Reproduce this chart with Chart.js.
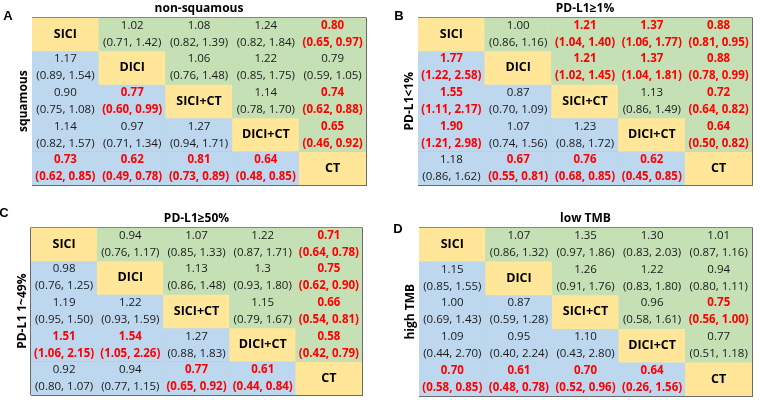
<!DOCTYPE html>
<html>
<head>
<meta charset="utf-8">
<script src="https://cdn.jsdelivr.net/npm/chart.js@4.4.1/dist/chart.umd.min.js"></script>
<style>
  html, body { margin: 0; padding: 0; background: #fff; }
  #wrap { position: relative; width: 760px; height: 400px; }
  .panel { position: absolute; width: 380px; height: 200px; }
</style>
</head>
<body>
<div id="wrap">
  <div class="panel" style="left:0;top:0"><canvas id="pA" width="380" height="200"></canvas></div>
  <div class="panel" style="left:380px;top:0"><canvas id="pB" width="380" height="200"></canvas></div>
  <div class="panel" style="left:0;top:200px"><canvas id="pC" width="380" height="200"></canvas></div>
  <div class="panel" style="left:380px;top:200px"><canvas id="pD" width="380" height="200"></canvas></div>
</div>
<script>
/* ===== League tables (HR with 95% CI) ===== */

const treatments = ['SICI', 'DICI', 'SICI+CT', 'DICI+CT', 'CT'];
const panelLetters = ['A', 'B', 'C', 'D'];
const colTitles = ['non-squamous', 'PD-L1\u22651%', 'PD-L1\u226550%', 'low TMB'];
const rowTitles = ['squamous', 'PD-L1<1%', 'PD-L1 1~49%', 'high TMB'];

// A: upper triangle non-squamous, lower triangle squamous
const estA = [
  [null, '1.02', '1.08', '1.24', '0.80'],
  ['1.17', null, '1.06', '1.22', '0.79'],
  ['0.90', '0.77', null, '1.14', '0.74'],
  ['1.14', '0.97', '1.27', null, '0.65'],
  ['0.73', '0.62', '0.81', '0.64', null]
];
const loA = [
  [null, 0.71, 0.82, 0.82, 0.65],
  [0.89, null, 0.76, 0.85, 0.59],
  [0.75, 0.60, null, 0.78, 0.62],
  [0.82, 0.71, 0.94, null, 0.46],
  [0.62, 0.49, 0.73, 0.48, null]
];
const hiA = [
  [null, 1.42, 1.39, 1.84, 0.97],
  [1.54, null, 1.48, 1.75, 1.05],
  [1.08, 0.99, null, 1.70, 0.88],
  [1.57, 1.34, 1.71, null, 0.92],
  [0.85, 0.78, 0.89, 0.85, null]
];
const sigA = [
  [0, 0, 0, 0, 1],
  [0, 0, 0, 0, 0],
  [0, 1, 0, 0, 1],
  [0, 0, 0, 0, 1],
  [1, 1, 1, 1, 0]
];

// B: PD-L1 >=1% vs <1%
const estB = [
  [null, '1.00', '1.21', '1.37', '0.88'],
  ['1.77', null, '1.21', '1.37', '0.88'],
  ['1.55', '0.87', null, '1.13', '0.72'],
  ['1.90', '1.07', '1.23', null, '0.64'],
  ['1.18', '0.67', '0.76', '0.62', null]
];
const loB = [
  [null, 0.86, 1.04, 1.06, 0.81],
  [1.22, null, 1.02, 1.04, 0.78],
  [1.11, 0.70, null, 0.86, 0.64],
  [1.21, 0.74, 0.88, null, 0.50],
  [0.86, 0.55, 0.68, 0.45, null]
];
const hiB = [
  [null, 1.16, 1.40, 1.77, 0.95],
  [2.58, null, 1.45, 1.81, 0.99],
  [2.17, 1.09, null, 1.49, 0.82],
  [2.98, 1.56, 1.72, null, 0.82],
  [1.62, 0.81, 0.85, 0.85, null]
];
const sigB = [
  [0, 0, 1, 1, 1],
  [1, 0, 1, 1, 1],
  [1, 0, 0, 0, 1],
  [1, 0, 0, 0, 1],
  [0, 1, 1, 1, 0]
];

// C: PD-L1 >=50% vs 1~49%
const estC = [
  [null, '0.94', '1.07', '1.22', '0.71'],
  ['0.98', null, '1.13', '1.3', '0.75'],
  ['1.19', '1.22', null, '1.15', '0.66'],
  ['1.51', '1.54', '1.27', null, '0.58'],
  ['0.92', '0.94', '0.77', '0.61', null]
];
const loC = [
  [null, 0.76, 0.85, 0.87, 0.64],
  [0.76, null, 0.86, 0.93, 0.62],
  [0.95, 0.93, null, 0.79, 0.54],
  [1.06, 1.05, 0.88, null, 0.42],
  [0.80, 0.77, 0.65, 0.44, null]
];
const hiC = [
  [null, 1.17, 1.33, 1.71, 0.78],
  [1.25, null, 1.48, 1.80, 0.90],
  [1.50, 1.59, null, 1.67, 0.81],
  [2.15, 2.26, 1.83, null, 0.79],
  [1.07, 1.15, 0.92, 0.84, null]
];
const sigC = [
  [0, 0, 0, 0, 1],
  [0, 0, 0, 0, 1],
  [0, 0, 0, 0, 1],
  [1, 1, 0, 0, 1],
  [0, 0, 1, 1, 0]
];

// D: low TMB vs high TMB
const estD = [
  [null, '1.07', '1.35', '1.30', '1.01'],
  ['1.15', null, '1.26', '1.22', '0.94'],
  ['1.00', '0.87', null, '0.96', '0.75'],
  ['1.09', '0.95', '1.10', null, '0.77'],
  ['0.70', '0.61', '0.70', '0.64', null]
];
const loD = [
  [null, 0.86, 0.97, 0.83, 0.87],
  [0.85, null, 0.91, 0.83, 0.80],
  [0.69, 0.59, null, 0.58, 0.56],
  [0.44, 0.40, 0.43, null, 0.51],
  [0.58, 0.48, 0.52, 0.26, null]
];
const hiD = [
  [null, 1.32, 1.86, 2.03, 1.16],
  [1.55, null, 1.76, 1.80, 1.11],
  [1.43, 1.28, null, 1.61, 1.00],
  [2.70, 2.24, 2.80, null, 1.18],
  [0.85, 0.78, 0.96, 1.56, null]
];
const sigD = [
  [0, 0, 0, 0, 0],
  [0, 0, 0, 0, 0],
  [0, 0, 0, 0, 1],
  [0, 0, 0, 0, 0],
  [1, 1, 1, 1, 0]
];

const YELLOW = '#FFE699';
const GREEN = '#C5E0B4';
const BLUE = '#BDD7EE';
const LINE = '#6b6b6b';
const FONT = '"Open Sans", "Noto Sans", sans-serif';

// where each table sits inside its 380x200 canvas
const panelPadding = [
  { left: 32, right: 14, top: 0, bottom: 15 },
  { left: 38, right: 8, top: 0, bottom: 15 },
  { left: 31, right: 18, top: 10, bottom: 5 },
  { left: 39, right: 8, top: 10, bottom: 4 }
];
const letterPos = [[8, 16], [19, 16], [4, 13], [18, 29]];

function cellPlugin(i, est, lo, hi, sig) {
  return {
    id: 'cellText' + i,
    afterDatasetsDraw(chart) {
      const ctx = chart.ctx;
      const a = chart.chartArea;
      ctx.save();
      ctx.textAlign = 'center';
      ctx.textBaseline = 'middle';
      chart.data.datasets.forEach((ds, r) => {
        chart.getDatasetMeta(r).data.forEach((bar, c) => {
          const cx = bar.x;
          const cy = (bar.y + bar.base) / 2;
          if (r === c) {
            ctx.font = 'bold 12.5px ' + FONT;
            ctx.fillStyle = '#000';
            ctx.fillText(treatments[c], cx, cy);
            return;
          }
          const red = sig[r][c] === 1;
          ctx.font = (red ? 'bold ' : '') + '11.5px ' + FONT;
          ctx.fillStyle = red ? '#ff0000' : '#1a1a1a';
          ctx.fillText(est[r][c], cx, cy - 8.5);
          ctx.fillText('(' + lo[r][c].toFixed(2) + ', ' + hi[r][c].toFixed(2) + ')', cx, cy + 8.5);
        });
      });

      // row-group label, rotated
      ctx.fillStyle = '#000';
      ctx.font = 'bold 12px ' + FONT;
      ctx.save();
      ctx.translate(a.left - 8.5, (a.top + a.bottom) / 2);
      ctx.rotate(-Math.PI / 2);
      ctx.fillText(rowTitles[i], 0, 0);
      ctx.restore();

      // panel letter
      ctx.font = 'bold 13px "Liberation Sans", Arial, sans-serif';
      ctx.fillText(panelLetters[i], letterPos[i][0], letterPos[i][1]);
      ctx.restore();
    }
  };
}

function drawPanel(i, canvasId, est, lo, hi, sig) {
  const ctx = document.getElementById(canvasId).getContext('2d');
  return new Chart(ctx, {
    type: 'bar',
    data: {
      labels: treatments,
      datasets: treatments.map((_, r) => ({
        label: treatments[r],
        data: treatments.map(() => [r, r + 1]),
        backgroundColor: treatments.map((_, c) => c < r ? BLUE : (c === r ? YELLOW : GREEN)),
        borderWidth: 0,
        grouped: false,
        barPercentage: 1,
        categoryPercentage: 1
      }))
    },
    options: {
      responsive: false,
      animation: false,
      layout: { padding: panelPadding[i] },
      plugins: {
        legend: { display: false },
        tooltip: { enabled: false },
        title: {
          display: true,
          text: colTitles[i],
          color: '#000',
          font: { family: FONT, size: 12, weight: 'bold' },
          padding: { top: 1, bottom: 2 }
        }
      },
      scales: {
        x: {
          type: 'category',
          offset: true,
          z: 1,
          grid: { offset: true, color: LINE, drawTicks: false },
          border: { display: true, color: LINE },
          ticks: { display: false }
        },
        y: {
          type: 'linear',
          min: 0,
          max: 5,
          reverse: true,
          z: 1,
          grid: { color: LINE, drawTicks: false },
          border: { display: true, color: LINE },
          ticks: { display: false, stepSize: 1 }
        }
      }
    },
    plugins: [cellPlugin(i, est, lo, hi, sig)]
  });
}

drawPanel(0, 'pA', estA, loA, hiA, sigA);
drawPanel(1, 'pB', estB, loB, hiB, sigB);
drawPanel(2, 'pC', estC, loC, hiC, sigC);
drawPanel(3, 'pD', estD, loD, hiD, sigD);
</script>
</body>
</html>
